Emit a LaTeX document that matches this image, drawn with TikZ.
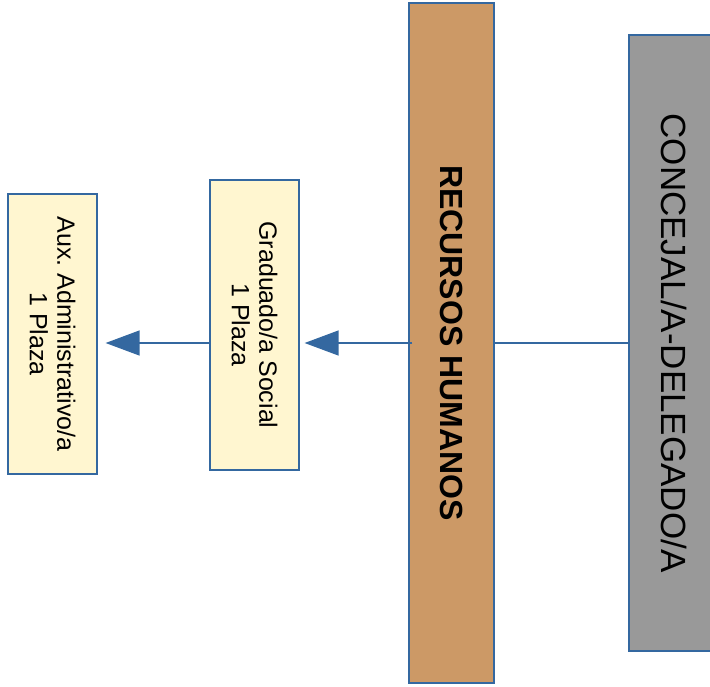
\documentclass[tikz,border=0pt]{standalone}
\usepackage{fontspec}
\setmainfont{Liberation Sans}
\usetikzlibrary{positioning, arrows.meta}
\definecolor{lineblue}{RGB}{52,104,160}
\definecolor{hrbrown}{RGB}{204,153,102}
\definecolor{chiefgray}{RGB}{153,153,153}
\definecolor{postyellow}{RGB}{255,246,208}
\frenchspacing

\begin{document}
\begin{tikzpicture}[x=1pt, y=-1pt,
    unit/.style={draw=lineblue, line width=1.2pt, inner sep=0pt},
    label/.style={rotate=-90, align=center, inner sep=0pt},
    flow/.style={draw=lineblue, line width=1.3pt,
      -{Triangle[length=34pt, width=25pt]}}]
  \clip (0,0) rectangle (710,686);

  \node[unit, fill=chiefgray, minimum width=91pt, minimum height=616pt]
  (chief) at (674.5,343) {};
  \node[label, font=\fontsize{35}{42}\selectfont] at (chief.center)
  {CONCEJAL/A-DELEGADO/A};

  \node[unit, fill=hrbrown, minimum width=85pt, minimum height=680pt]
  (hr) at (451.5,343) {};
  \node[label, font=\bfseries\fontsize{32}{38}\selectfont] at (hr.center)
  {RECURSOS HUMANOS};

  \node[unit, fill=postyellow, minimum width=89pt, minimum height=290pt]
  (grad) at (254.5,325) {};
  \node[label, font=\fontsize{25}{27.5}\selectfont] at (grad.center)
  {Graduado/a Social\\1 Plaza};

  \node[unit, fill=postyellow, minimum width=89pt, minimum height=280pt]
  (aux) at (52.5,334) {};
  \node[label, font=\fontsize{25}{27.5}\selectfont] at (aux.center)
  {Aux. Administrativo/a\\1 Plaza};

  % connectors
  \draw[draw=lineblue, line width=1.3pt] (chief.west) -- (hr.east);
  \draw[flow, shorten >=5pt] ([xshift=4pt]hr.west) -- (hr.west -| grad.east);
  \draw[flow, shorten >=8pt] (grad.west |- hr.west) -- (hr.west -| aux.east);
\end{tikzpicture}
\end{document}
